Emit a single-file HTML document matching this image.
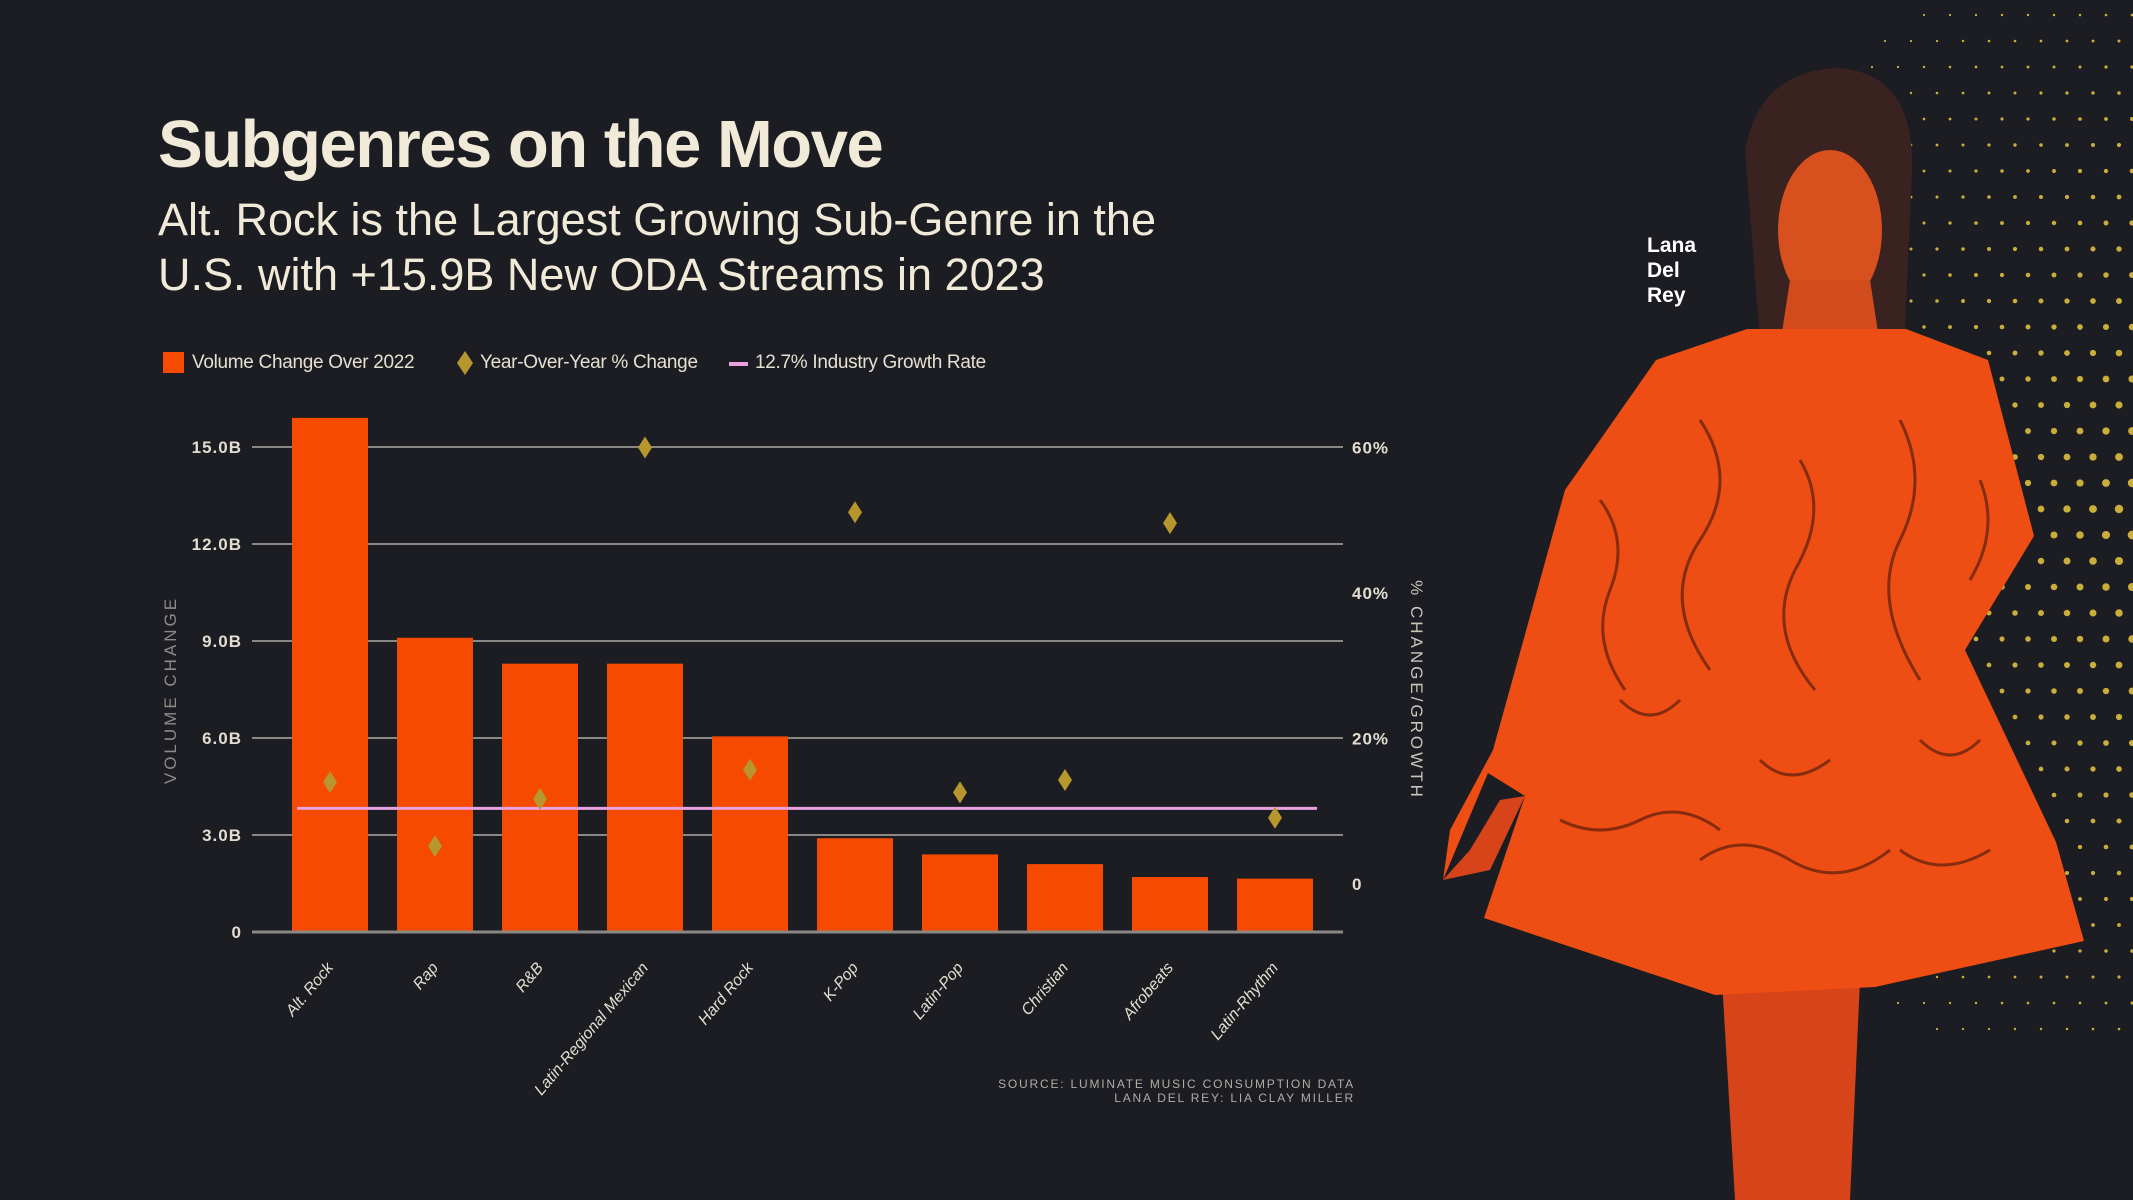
<!DOCTYPE html>
<html><head><meta charset="utf-8">
<style>
html,body{margin:0;padding:0;background:#1c1d22;}
#root{position:relative;width:2133px;height:1200px;overflow:hidden;background:#1c1d22;font-family:"Liberation Sans",sans-serif;}
.t{position:absolute;white-space:nowrap;}
</style></head>
<body>
<div id="root">
<svg id="photo" width="2133" height="1200" style="position:absolute;left:0;top:0">
  <g id="dots"></g>
  <path d="M1722 980 L1860 980 L1850 1200 L1735 1200 Z" fill="#d8441a"/>
  <path d="M1745 150 Q1760 70 1840 68 Q1915 75 1912 170 L1905 330 L1760 340 Z" fill="#3a2220"/>
  <ellipse cx="1830" cy="230" rx="52" ry="80" fill="#d9501f"/>
  <path d="M1790 280 L1870 280 L1880 345 L1780 345 Z" fill="#d24b1c"/>
  <path d="M1656 360 L1747 329 L1906 329 L1988 360 L2034 536 L1965 650 L2056 842 L2084 941 L1875 987 L1715 995 L1484 918 L1525 796 L1488 773 L1443 880 L1450 830 L1493 750 L1565 490 Z" fill="#ee4d14"/>
  <g stroke="#5a1d0c" stroke-width="3" fill="none" opacity="0.7">
    <path d="M1600 500 q30 40 10 90 q-20 50 15 100"/><path d="M1700 420 q40 60 0 120 q-40 60 10 130"/>
    <path d="M1800 460 q30 50 -5 110 q-30 60 20 120"/><path d="M1900 420 q30 60 0 120 q-30 60 20 140"/>
    <path d="M1980 480 q20 50 -10 100"/><path d="M1560 820 q40 20 80 0 q40 -20 80 10"/>
    <path d="M1700 860 q40 -30 90 0 q50 30 100 -10"/><path d="M1900 850 q40 30 90 0"/>
    <path d="M1620 700 q30 30 60 0"/><path d="M1760 760 q30 30 70 0"/><path d="M1920 740 q30 30 60 0"/>
  </g>
  <path d="M1443 880 L1470 850 L1500 800 L1525 796 L1490 870 Z" fill="#d8441a"/>
</svg>
<svg id="chart" width="2133" height="1200" style="position:absolute;left:0;top:0"></svg>

<div class="t" style="left:158px;top:106px;font-size:67px;font-weight:bold;color:#f2ead8;letter-spacing:-1.5px;">Subgenres on the Move</div>
<div class="t" style="left:158px;top:192px;font-size:45px;color:#f2ead8;letter-spacing:0px;line-height:55px;">Alt. Rock is the Largest Growing Sub-Genre in the<br>U.S. with +15.9B New ODA Streams in 2023</div>

<div>
  <div style="position:absolute;left:163px;top:352px;width:21px;height:21px;background:#f54a00"></div>
  <div class="t" style="left:192px;top:352px;font-size:19px;color:#e6e0d2;letter-spacing:-0.3px">Volume Change Over 2022</div>
  <svg style="position:absolute;left:457px;top:351px" width="16" height="24"><path d="M8 0 L16 12 L8 24 L0 12 Z" fill="#b8962e"/></svg>
  <div class="t" style="left:480px;top:352px;font-size:19px;color:#e6e0d2;letter-spacing:-0.3px">Year-Over-Year % Change</div>
  <div style="position:absolute;left:729px;top:362px;width:19px;height:4px;background:#e8a2e0"></div>
  <div class="t" style="left:755px;top:352px;font-size:19px;color:#e6e0d2;letter-spacing:-0.3px">12.7% Industry Growth Rate</div>
</div>

<div class="t" style="left:171px;top:690px;font-size:17px;color:#8b8a86;letter-spacing:3px;transform:translate(-50%,-50%) rotate(-90deg);">VOLUME CHANGE</div>
<div class="t" style="left:1416px;top:690px;font-size:17px;color:#c9c5bb;letter-spacing:3px;transform:translate(-50%,-50%) rotate(90deg);">% CHANGE/GROWTH</div>

<div class="t" style="right:778px;top:1077px;font-size:12px;color:#b0ada5;letter-spacing:1.8px;text-align:right;line-height:14px">SOURCE: LUMINATE MUSIC CONSUMPTION DATA<br>LANA DEL REY: LIA CLAY MILLER</div>
<div class="t" style="left:1647px;top:233px;font-size:21px;font-weight:bold;color:#ffffff;line-height:25px">Lana<br>Del<br>Rey</div>
</div>

<script>
const categories = ["Alt. Rock","Rap","R&B","Latin-Regional Mexican","Hard Rock","K-Pop","Latin-Pop","Christian","Afrobeats","Latin-Rhythm"];
const volumeB = [15.9,9.1,8.3,8.3,6.05,2.9,2.4,2.1,1.7,1.65];
const yoyPct = [14.0,5.2,11.7,60.0,15.7,51.1,12.6,14.3,49.6,9.1];
const industryRate = 10.4;
const leftTicks = [0,3,6,9,12,15];
const leftTickLabels = ["0","3.0B","6.0B","9.0B","12.0B","15.0B"];
const rightTicks = [0,20,40,60];
const rightTickLabels = ["0","20%","40%","60%"];

const NS="http://www.w3.org/2000/svg";
const svg=document.getElementById('chart');
const yL=v=>932-v/15*485;
const yR=v=>884-v/60*436.5;
const xBand=i=>292+i*105;
const bw=76;
function mk(tag,attrs,parent){const e=document.createElementNS(NS,tag);for(const k in attrs)e.setAttribute(k,attrs[k]);(parent||svg).appendChild(e);return e;}

leftTicks.forEach((t,i)=>{
  if(t>0){const g=mk('line',{x1:252,x2:1343,y1:yL(t),y2:yL(t),stroke:'#8a8884','stroke-width':2});
  
  }
  const tx=mk('text',{x:242,y:yL(t)+6,'text-anchor':'end','font-size':17,'font-weight':'bold',fill:'#e2ddd0','letter-spacing':1,'font-family':'Liberation Sans, sans-serif'});
  tx.textContent=leftTickLabels[i];
  
  
});
rightTicks.forEach((t,i)=>{
  const tx=mk('text',{x:1352,y:yR(t)+6,'font-size':17,'font-weight':'bold',fill:'#e2ddd0','letter-spacing':1,'font-family':'Liberation Sans, sans-serif'});
  tx.textContent=rightTickLabels[i];
  
  
});
volumeB.forEach((v,i)=>{
  const r=mk('rect',{x:xBand(i),y:yL(v),width:bw,height:yL(0)-yL(v),fill:'#f54a00'});
  
  
  const cx=xBand(i)+bw/2;
  const tx=mk('text',{x:0,y:0,'text-anchor':'end','font-size':16,fill:'#e2ddd0','font-style':'italic','font-family':'Liberation Sans, sans-serif',transform:`translate(${cx+4},${968}) rotate(-50)`});
  tx.textContent=categories[i];
  
  
});
const axis=mk('line',{x1:252,x2:1343,y1:yL(0),y2:yL(0),stroke:'#8a8884','stroke-width':3});


const ind=mk('line',{x1:297,x2:1317,y1:yR(industryRate),y2:yR(industryRate),stroke:'#e8a2e0','stroke-width':3});


yoyPct.forEach((p,i)=>{
  const cx=xBand(i)+bw/2, cy=yR(p);
  const d=mk('path',{d:`M${cx} ${cy-11} L${cx+7} ${cy} L${cx} ${cy+11} L${cx-7} ${cy} Z`,fill:'#b8962e'});
  
  
});
// decorative dot pattern
const dg=document.getElementById('dots');
for(let r=0;r<40;r++){for(let c=0;c<13;c++){
  const x=1820+c*26+(r%2)*13, y=15+r*26;
  const dx=(x-1820)/310, dy=1-Math.abs(y-520)/560;
  let rad=1+3.4*dx*Math.max(dy,0);
  if(rad<1.1||y>1060)continue;
  mk('circle',{cx:x,cy:y,r:rad,fill:'#c9ae3c'},dg);
}}
</script>
</body></html>
